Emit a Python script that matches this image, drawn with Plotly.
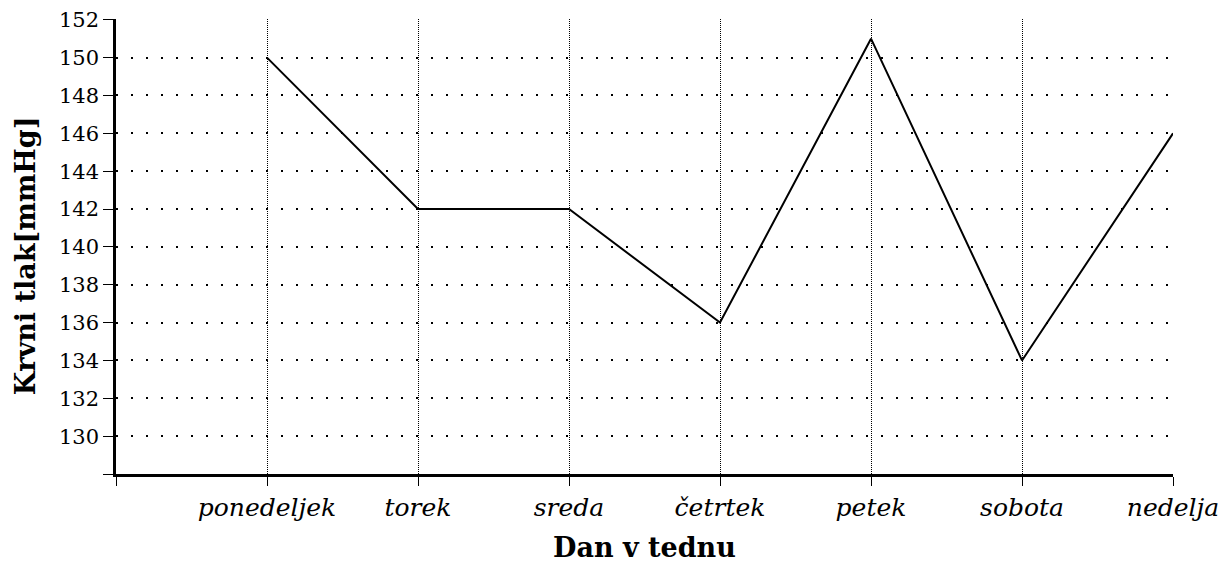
import plotly.graph_objects as go

days = ["ponedeljek", "torek", "sreda", "četrtek", "petek", "sobota", "nedelja"]
pressure = [150, 142, 142, 136, 151, 134, 146]
y_ticks = [128, 130, 132, 134, 136, 138, 140, 142, 144, 146, 148, 150, 152]

x_pos = list(range(1, len(days) + 1))
FONT = "'DejaVu Serif', serif"

fig = go.Figure()
fig.add_trace(go.Scatter(
    x=x_pos, y=pressure, mode="lines",
    line=dict(color="black", width=2),
    showlegend=False,
))

# the page body has an 8px default margin, so margins are offset accordingly
fig.update_layout(
    width=1231, height=563,
    margin=dict(l=108, r=66, t=11, b=97),
    plot_bgcolor="white", paper_bgcolor="white",
    font=dict(family=FONT, size=22, color="black"),
)
fig.update_xaxes(
    range=[0, 7],
    automargin=False,
    tickmode="array",
    tickvals=[0] + x_pos,
    ticktext=[""] + days,
    tickfont=dict(family=FONT, size=25, style="italic"),
    ticks="outside", ticklen=9, tickwidth=1, tickcolor="black",
    showline=True, linecolor="black", linewidth=3,
    showgrid=True, gridcolor="black", gridwidth=1.2, griddash="1px,1px",
    zeroline=False,
)
fig.update_yaxes(
    range=[128, 152.04],
    automargin=False,
    tickmode="array",
    tickvals=y_ticks,
    ticktext=[""] + [str(v) for v in y_ticks[1:]],
    tickfont=dict(family=FONT, size=21),
    ticks="outside", ticklen=10, tickwidth=1, tickcolor="black",
    showline=True, linecolor="black", linewidth=2.5,
    showgrid=True, gridcolor="black", gridwidth=1.5, griddash="1.5px,13.5px",
    zeroline=False,
)
fig.add_annotation(
    text="<b>Dan v tednu</b>",
    xref="paper", yref="paper", x=0.5, y=-0.162,
    xanchor="center", yanchor="middle", showarrow=False,
    font=dict(family=FONT, size=27, color="black"),
)
fig.add_annotation(
    text="<b>Krvni tlak[mmHg]</b>",
    xref="paper", yref="paper", x=-0.086, y=0.479,
    xanchor="center", yanchor="middle", showarrow=False, textangle=-90,
    font=dict(family=FONT, size=27, color="black"),
)

fig.write_html("out.html")
